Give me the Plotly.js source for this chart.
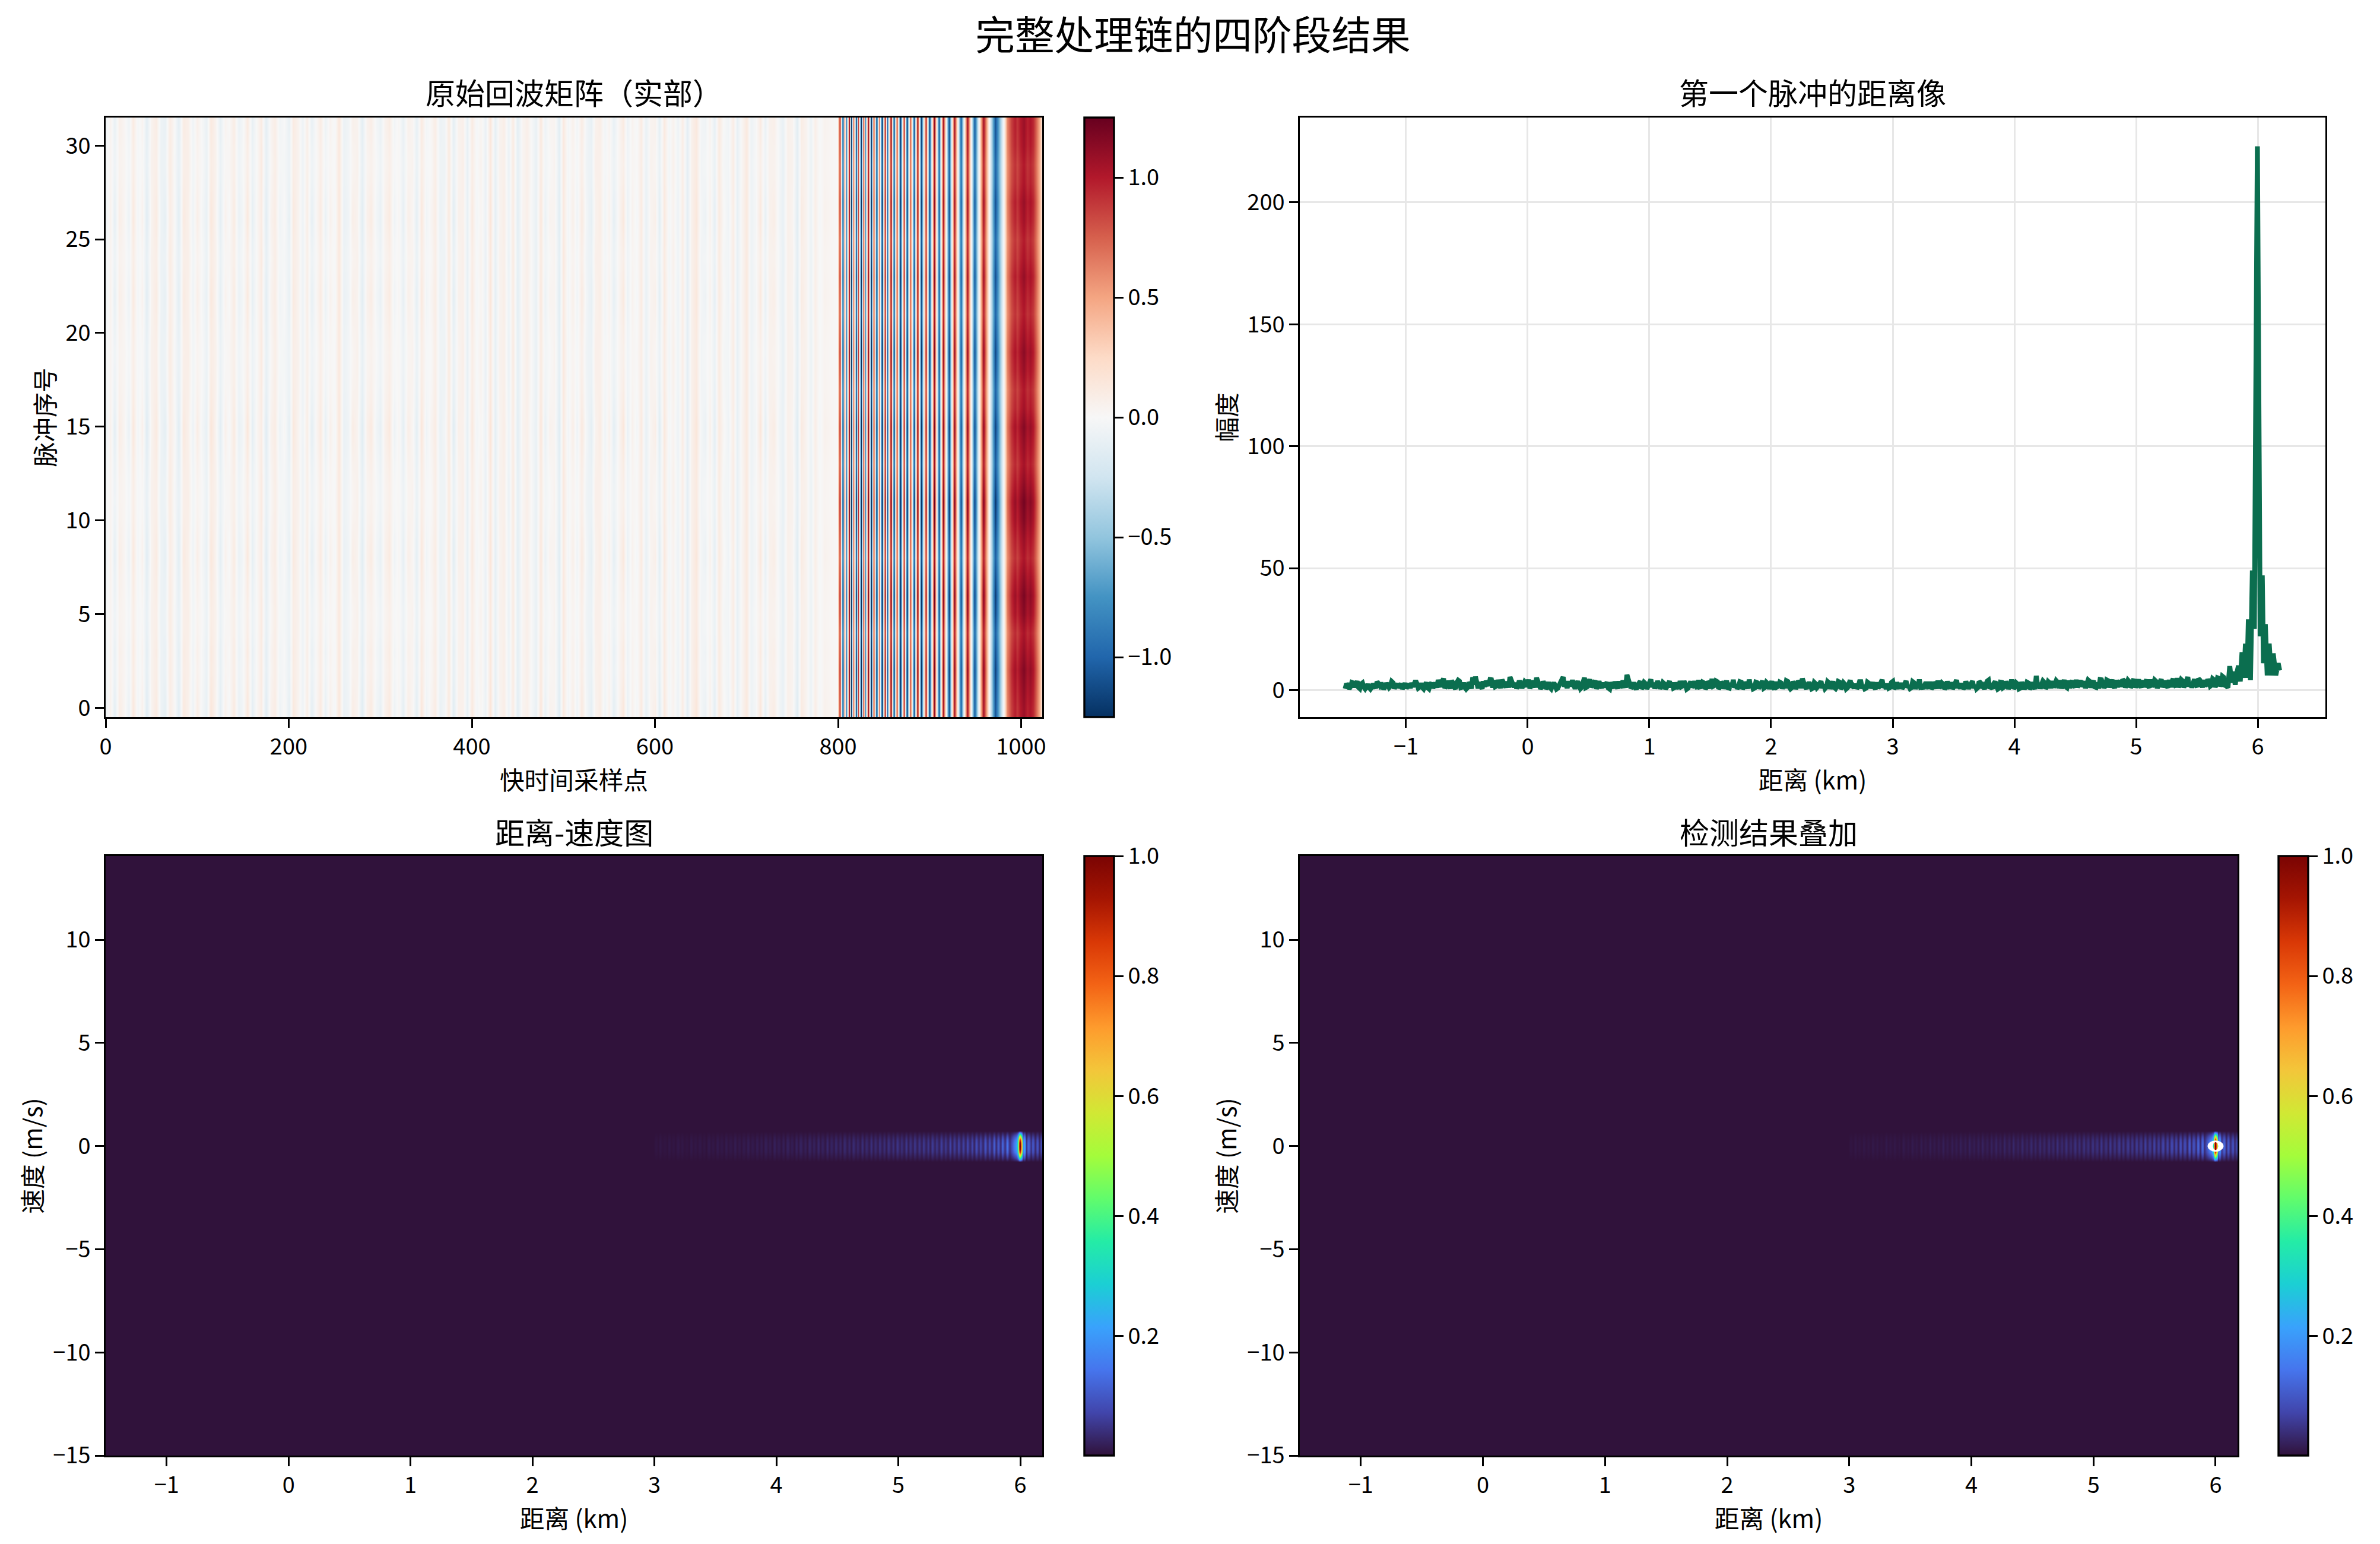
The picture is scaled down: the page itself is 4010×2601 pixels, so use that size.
<!DOCTYPE html>
<html><head><meta charset="utf-8">
<script src="https://cdn.plot.ly/plotly-3.0.1.min.js"></script>
<style>html,body{margin:0;padding:0;background:#fff}</style></head>
<body><div id="chart"></div>
<script>
// ---------- panel 1: raw echo matrix ----------
const noiseA=[-.08,.06,-.13,.1,.03,-.09,.14,-.04,.07,-.16,.04,.12,-.06,-.12,.09,.02,-.15,.13,.06,-.07,.1,-.03,-.1,.16,.04,-.13,.07,-.02,.12,-.09,-.04,.15,-.12,.03,.09,-.15,.06,.1,-.07,.02,-.12,.13,.04,-.06,.09,-.13,.03,.12,-.1,.07,-.03,.15,-.09,-.06,.1,.04,-.15,.07,.12,-.04,-.1,.06,.13,-.07,.03,-.12,.09,.02,-.13,.15,-.06,.04,.1,-.09,-.03,.12,-.15,.07,.06,-.1,.13,-.04,.02,-.07,.16,-.12,.03,.09,-.06,.1,-.13,.04,.07,-.02,-.09,.15,-.1,.06,.03,-.15,.12,-.04,.09,-.07,.13,-.03,-.12,.04,.1,-.06,.07,-.13,.02,.15,-.09,.06,-.04,.12,-.1,.03,.09,-.15,.13,-.02,.04,-.07,.1,-.12,.06,.15,-.03,-.09,.07,-.13,.12,.02,-.06,.09,-.1,.04,.13,-.07,-.03,.15,-.12,.06,.1,-.04,-.09,.07,.03,-.15,.12,.04,-.07,.09,-.03,.06];
const noiseB=[.09,-.04,.12,-.1,.02,.13,-.07,.04,-.15,.06,.1,-.03,-.12,.07,.15,-.09,.03,-.06,.12,.04,-.13,.09,-.02,-.07,.1,.06,-.15,.13,-.04,.03,.09,-.12,.07,-.06,.15,.02,-.1,.04,.12,-.13,.06,-.03,.1,-.09,.03,.13,-.07,-.04,.15,-.12,.06,.09,-.02,.04,-.15,.1,.03,-.07,-.13,.12,.07,-.04,-.09,.15,-.03,.06,-.12,.1,.02,-.07,.13,-.1,.04,.03,-.15,.09,.06,-.04,.12,-.09,-.02,.07,.13,-.12,.03,-.06,.1,.04,-.13,.15,-.07,-.03,.09,.06,-.1,.02,.12,-.15,.07,-.04,.13,.03,-.09,.1,-.06,-.12,.04,.15,-.02,.07,-.1,.09,.03,-.13,.06,-.07,.12,.02,-.04,.1,-.15,.09,.04,-.09,.13,-.03,.06,-.12,.07,.02,-.06,.15,-.1,.04,.09,-.13,.03,.12,-.07,-.02,.1,-.04,.06,-.15,.13,.03,-.09,.07,-.12,.04,.1,-.03,-.06,.09,-.1,.02,.07,-.04];
const rowBlend=[.95,.88,.8,.86,.76,.72,.79,.84,.93,.87,.78,.72,.75,.82,.91,.98,.86,.79,.74,.71,.77,.84,.9,.82,.75,.83,.92,.87,.79,.73,.78,.85];
const rowGain=[1.02,1.06,1.1,1.04,.98,1.08,1.12,1.05,.97,1.03,1.1,1.14,1.06,.99,1.04,1.09,1.0,.96,1.03,1.07,1.01,.95,.99,1.04,.98,.94,1.0,1.03,.97,.95,1.0,1.02];
const chirpSample=[799.5,802,805,807,809,812,814,817,820,822,825,828,830,833,836,839,842,845,848,851,854,858,861,864,868,872,875,879,883,887,891,896,900,905,910,915,921,927,934,941,949,959,972,981,985,989,993,996,999,1003,1007,1010,1013,1016,1020,1023];
const chirpValue=[0,.95,-1.15,.7,-.85,1.05,-1.2,.75,-1.1,.85,-1.2,.95,-.8,1.05,-1.2,.9,-1.15,.7,-1.2,1.05,-.95,1.15,-1.1,.85,-1.2,.95,-1.15,.8,-1.05,1.1,-1.15,.95,-1.1,1.08,-1.02,1.02,-1.08,1.02,-.98,1.03,-1.02,1.03,-1.06,0,.6,.85,.96,.88,.98,1.06,.95,1.0,.92,.76,.48,.12];
// ---------- panel 2: first pulse range profile ----------
const profileFloor=[.5,1.9,1.4,2.9,2.3,1.1,2.5,1.2,1.3,1,1.2,1.6,3.4,1.8,.8,1.3,1.9,1.6,3,1.7,1,2.6,1.4,.7,2.5,
2.9,3.1,2.6,1.2,1.1,1.8,1,2.3,.8,2.9,4.1,1.3,4.7,1.6,2.6,3.8,1.3,3.1,3.6,1.2,1.1,1,2.4,5.2,5.5,
.7,1.7,3.6,3.7,1.8,4.2,4,1.7,2.5,4.2,1.6,3.5,5.3,2.4,3,1.9,2.4,2.2,2.8,4.3,2.3,2.6,5,1.8,1.4,
2.4,1.3,1.1,1.9,1.7,.8,2.8,5.3,2.6,3.6,2.4,2.2,2.5,2,1.2,5,1.3,4.4,2.4,3.8,2.2,1.8,3,2.4,.8,
3.1,.7,2.4,3.6,1.8,2.5,6.2,2.9,1.4,1.1,1.9,3.6,1.3,2.6,1.7,4.3,3,2.2,2.4,1.6,2.6,1.3,3.6,3,1.1,
1.9,3.7,1.7,2.4,.8,3.5,1.8,2.2,4.1,1.4,2.9,1.2,2.8,4.6,1.9,3.4,1.3,2.5,2,1,2.9,4.2,2.3,1.4,3.2,
1.3,2.2,4.3,2.4,.8,3,1.7,3.7,1.2,2.6,1.9,1.1,3.4,1.6,2.9,2,3.8,1.3,1,2.3,1.7,3.1,4.7,1.4,2.4,
1.8,.8,2.6,1.6,3.6,2.2,1.2,2.9,1.9,1.1,1.6,3.2,1.3,2.3,1,4,1.7,2.5,1.4,3.4,2,.8,2.8,1.8,1.2,
3.1,1.6,4.2,1.9,2.6,1.1,3.5,1.3,2.2,2.9,1.4,3.7,1.8,1,3,2,4.3,1.4,2.5,1.7,3.4,1.2,2.3,3.8,1.6,
2.4,1.1,1.8,3.2,1.4,4.1,1.9,2.8,1.2,2.4,1.7,3.6,2,1,3,1.6,2.3,4,1.3,2.6,1.8,.8,3.1,1.4,2.2,
1.7,3.5,1.3,2.4,.8,1.9,1.4,2.9,1.1,1.8,5.8,2.6,2.3,3.1,1.4,2.9,3.7,2.2,3.2,4,2.5,1.4,3.8,2.9,1.9,
4.2,2.4,1.4,3.5,2.2,3.6,2.9,1.3,3.1,4.3,2.4,1.7,3.8,2.8,1.8,4.1,3,1.3,3.8,2.4,3.4,1.8,3.7,2.6,2,
4,3.1,1.7,4.3,2.6,3.6,2.2,4.4,2.9,1.8,4.1,3.4,1.9,4.9,2.8,3.8,2.3,5.3,3.1,3.6,2,4.6,2.9,4.1,2.4];
const profileMid=[2.6,.5,3.1,1.2,3.6,.6,2.9,.5,2.3,.4,2.5,.8,2.3,2.9,.4,2.8,1,3.5,.6,2.6,2,.5,2.8,1.9,.8,
1.4,3.8,.8,2.8,.5,3.1,.5,2.9,2,1,2.6,3.4,.8,3.7,.6,3,.5,4,1,3,.4,3.1,.6,2.2,1.1,
3.2,.5,1.3,2.6,4.3,1,1.4,4.1,.8,3.1,1.1,1,3.7,1.2,.6,3.8,.8,3.4,1.3,.6,3.7,1.1,2.9,.6,3.5,
.6,3.2,.5,3,.4,1.9,3.8,1.4,.8,1.8,4,.5,3.5,.6,3.1,1,2.9,1.2,3.2,.5,3.6,.8,1.1,3.1,.4,
1.8,3.4,.6,1.1,3.8,1,3.7,.8,3.1,.4,3.5,.6,3.1,.5,3.4,1.2,.6,3.6,.6,3.1,.5,3,1.1,.8,3,
.5,1.4,3.6,.4,2.8,1.2,3.6,.5,1.3,3.2,.5,3.5,.6,1.6,3.7,.5,3.4,.6,3.8,.8,1.2,1,.6,3.4,.5,
3.2,.6,1.4,.5,3.2,.6,3.5,.8,3.1,.5,3.6,.4,1.3,3.2,.6,.8,3.5,.5,3.5,.5,3.7,.8,1.7,.6,3.2,
.5,3.1,1,3.5,.8,.6,3.4,.5,3.5,.6,3.5,.5,2.9,.5,3.2,1.1,.8,.6,3.4,.6,.5,3.2,.8,3.1,.4,
.8,3.2,1,.5,.8,3.1,.5,3,.6,.6,3.5,1,.6,3.4,.5,.8,1.2,.6,3.2,.6,.5,3.2,.6,.8,2.9,
.5,3.5,.6,.5,3.4,.8,.6,.5,3.5,.6,3,.8,.5,3.5,.8,.5,3.6,.6,.6,3.4,.4,3.2,1,3.5,.5,
3.5,.6,2.9,.5,3.2,.5,3.2,.5,3.1,.4,1.8,.6,3.7,.6,3.4,.8,1.1,3.8,.8,.6,4.1,1,.8,3.8,1.1,
1.1,4,3.2,.8,4.1,1,3.8,1.1,.6,4.2,1,4.1,1.1,4.2,.8,1.2,3.8,4.3,1,4,1.1,3.8,1,4.3,1.1,
1.2,4.2,1,1.3,4.1,.8,4.3,1.2,3.7,1,1.2,4.6,1.4,1.1,4.3,1.1,4.7,1.4,1,4.4,1.3,4.1,1.1,1.6,4.3];
const nearKm=[5.6,5.61,5.62,5.63,5.64,5.65,5.66,5.67,5.68,5.69,5.7,5.71,5.72,5.73,5.74,5.755,5.77,5.785,5.8,5.815,5.828,5.842,5.856,5.871,5.886,5.899,5.912,5.923,5.94,5.956,5.972,5.997,6.02,6.037,6.047,6.062,6.078,6.094,6.11,6.127,6.148,6.168,6.18];
const nearAmp=[3.5,1.6,2,4.6,4.2,1.2,2.5,5,4.8,1.6,2.6,5.6,5.2,1.4,1.8,1,9.8,3,7.5,2.2,7,10,3.5,15.5,5,19,5,29,4,49,25,223,22,47,11,27,6,19,6,15,6,11,8];
// ---------- panels 3 and 4: range-Doppler map ----------
const dopplerVel=[-15,-14.0625,-13.125,-12.1875,-11.25,-10.3125,-9.375,-8.4375,-7.5,-6.5625,-5.625,-4.6875,-3.75,-2.8125,-1.875,-.75,-.6,-.45,-.3,-.15,0,.15,.3,.45,.6,.75,1.875,2.8125,3.75,4.6875,5.625,6.5625,7.5,8.4375,9.375,10.3125,11.25,12.1875,13.125,14.0625];
const dopplerWeight=[0,0,0,0,0,0,0,0,0,0,0,0,0,0,0,0,.3,.6,.85,.97,1,.97,.85,.6,.3,0,0,0,0,0,0,0,0,0,0,0,0,0,0,0];
const lobeFar=[.006,.002,.008,.003,.006,.002,.009,.003,.007,.002,.01,.004,.008,.003,.006,.002,.011,.004,.008,.003,.01,.003,.007,.002,.012,.004,.009,.003,.013,.005,.01,.003,.014,.005,.011,.004,.016,.005,.012,.004,.014,.005,.018,.006,.013,.004,.017,.006,.015,.005,.02,.007,.016,.005,.022,.008,.017,.006,.019,.006,.024,.008,.018,.006,.023,.008,.026,.009,.02,.007,.028,.009,.024,.008,.03,.01,.025,.008,.032,.011,.027,.009,.034,.012,.029,.01,.036,.012,.031,.011,.038,.013,.033,.011,.04,.014,.036,.012,.042,.015,.037,.013,.045,.016,.04,.014,.047,.017,.042,.015,.05,.018,.045,.016,.052,.018,.047,.016,.055,.019,.05,.017,.058,.02,.052,.018,.06,.021,.055,.019,.063,.022,.058,.02,.067,.023,.062,.021,.072,.024,.066,.022,.078,.026,.072,.024,.086,.028,.08,.026,.096,.03,.09,.028,.11,.032,.1,.03,.13,.036,.14,.04];
const lobeNearKm=[5.964,5.972,5.982,5.989,5.995,6.001,6.007,6.013,6.02,6.034,6.05,6.068,6.086,6.104,6.122,6.14,6.158,6.176,6.18];
const lobeNearVal=[.2,.24,.35,.85,1,1,.85,.55,.15,.24,.05,.13,.04,.11,.035,.1,.03,.09,.08];
// detected cell outline (km, m/s), outer boundary then the inner opening
const detectKm=[6.066,6.061,6.046,6.025,6,5.975,5.954,5.939,5.934,5.939,5.954,5.975,6,6.025,6.046,6.061,6.066,null,6.022,6.016,6,5.984,5.978,5.984,6,6.016,6.022];
const detectVel=[0,.104,.193,.252,.273,.252,.193,.104,0,-.104,-.193,-.252,-.273,-.252,-.193,-.104,0,null,0,-.141,-.2,-.141,0,.141,.2,.141,0];
const titles=['原始回波矩阵（实部）','第一个脉冲的距离像','距离-速度图','检测结果叠加'];
const suptitle='完整处理链的四阶段结果';
const tickValsCb1=[-1,-.5,0,.5,1], tickTextCb1=['−1.0','−0.5','0.0','0.5','1.0'];
const tickValsCb2=[.2,.4,.6,.8,1], tickTextCb2=['0.2','0.4','0.6','0.8','1.0'];
const rdbu=['#053061','#2166ac','#4393c3','#92c5de','#d1e5f0','#f7f7f7','#fddbc7','#f4a582','#d6604d','#b2182b','#67001f'];
const turbo=['#30123b','#4145ab','#4675ed','#39a2fc','#1bcfd4','#24eca6','#61fc6c','#a4fc3b','#d1e834','#f3c63a','#fe9b2d','#f36315','#d93806','#a51502','#7a0403'];

const W=4010,H=2601,FONT='"Noto Sans CJK SC","Noto Sans",sans-serif';
const scale=a=>a.map((c,i)=>[i/(a.length-1),c]);
const dx=([a,b])=>[a/W,b/W], dy=([t,b])=>[1-b/H,1-t/H];
const rowsTop=[198,1208], rowsBot=[1442,2452];

// panel 1 grid
const echoX=[], echoZ=[];
noiseA.forEach((_,i)=>echoX.push(i*5));
chirpSample.forEach(s=>echoX.push(s));
rowBlend.forEach((w,r)=>{
  const row=noiseA.map((a,i)=>a*w+noiseB[i]*(1-w));
  chirpValue.forEach(v=>row.push(v*rowGain[r]));
  echoZ.push(row);
});
const echoY=rowBlend.map((_,i)=>i);
// panel 2 line
const floorStep=7.1/profileFloor.length;
const lineX=[], lineY=[];
profileFloor.forEach((v,i)=>{
  lineX.push(-1.5+i*floorStep); lineY.push(v);
  if(i<profileMid.length){lineX.push(-1.5+(i+.5)*floorStep); lineY.push(profileMid[i]);}
});
nearKm.forEach((k,i)=>{lineX.push(k); lineY.push(nearAmp[i]);});
// panels 3, 4 grid
const rdX=[-1.5,2.99].concat(lobeFar.map((_,i)=>3.012+i*.018),lobeNearKm);
const rdRow=[0,0].concat(lobeFar,lobeNearVal);
const rdZ=dopplerWeight.map(w=>rdRow.map(v=>v*w));

const tick={family:FONT,size:38,color:'#000'};
const cb=(x,yr,vals,text)=>({x:x/W,xanchor:'left',xref:'paper',y:1-(yr[0]+yr[1])/2/H,yanchor:'middle',yref:'paper',
  len:(yr[1]-yr[0])/H,lenmode:'fraction',thickness:50,thicknessmode:'pixels',xpad:0,ypad:0,outlinewidth:3.4,outlinecolor:'#000',
  tickmode:'array',tickvals:vals,ticktext:text,ticks:'outside',ticklen:14.6,tickwidth:3.4,tickcolor:'#000',tickfont:tick,showticklabels:true});
const traces=[
 {type:'heatmap',x:echoX,y:echoY,z:echoZ,xaxis:'x',yaxis:'y',zsmooth:'best',zmin:-1.25,zmax:1.25,colorscale:scale(rdbu),colorbar:cb(1827,rowsTop,tickValsCb1,tickTextCb1)},
 {type:'scatter',mode:'lines',x:lineX,y:lineY,xaxis:'x2',yaxis:'y2',line:{color:'#0b6e4f',width:8.3},showlegend:false},
 {type:'heatmap',x:rdX,y:dopplerVel,z:rdZ,xaxis:'x3',yaxis:'y3',zsmooth:'best',zmin:.0005,zmax:1,colorscale:scale(turbo),colorbar:cb(1827,rowsBot,tickValsCb2,tickTextCb2)},
 {type:'heatmap',x:rdX,y:dopplerVel,z:rdZ,xaxis:'x4',yaxis:'y4',zsmooth:'best',zmin:.0005,zmax:1,colorscale:scale(turbo),colorbar:cb(3839,rowsBot,tickValsCb2,tickTextCb2)},
 {type:'scatter',mode:'lines',x:detectKm,y:detectVel,xaxis:'x4',yaxis:'y4',fill:'toself',fillcolor:'#fff',line:{color:'#fff',width:0},connectgaps:false,showlegend:false,hoverinfo:'skip'}
];
const ax=(dom,range,title,extra)=>Object.assign({domain:dom,range,showline:true,mirror:true,linecolor:'#000',linewidth:3.4,
  ticks:'outside',ticklen:14.6,tickwidth:3.4,tickcolor:'#000',tickfont:tick,showgrid:false,zeroline:false,automargin:false,
  title:{text:title,font:{family:FONT,size:41.7,color:'#000'},standoff:5}},extra);
const kmTicks={tickmode:'array',tickvals:[-1,0,1,2,3,4,5,6]};
const velTicks={tickmode:'array',tickvals:[-15,-10,-5,0,5,10]};
const gridStyle={showgrid:true,gridcolor:'#e7e7e7',gridwidth:3.3};
const subTitle=(t,xr,yTop)=>({text:t,x:(xr[0]+xr[1])/2/W,y:1-yTop/H,xref:'paper',yref:'paper',xanchor:'center',yanchor:'middle',showarrow:false,font:{family:FONT,size:50,color:'#000'}});
const layout={width:W,height:H,margin:{l:0,r:0,t:0,b:0},paper_bgcolor:'#fff',plot_bgcolor:'#fff',showlegend:false,
 title:{text:suptitle,x:2010/W,xref:'paper',xanchor:'center',y:1-61/H,yref:'paper',yanchor:'middle',font:{family:FONT,size:66.7,color:'#000'}},
 xaxis:ax(dx([178,1756]),[0,1023],'快时间采样点',{anchor:'y',tickmode:'array',tickvals:[0,200,400,600,800,1000]}),
 yaxis:ax(dy(rowsTop),[-.5,31.5],'脉冲序号',{anchor:'x',tickmode:'array',tickvals:[0,5,10,15,20,25,30]}),
 xaxis2:ax(dx([2190,3918]),[-1.873,6.556],'距离 (km)',Object.assign({anchor:'y2'},kmTicks,gridStyle)),
 yaxis2:ax(dy(rowsTop),[-11.1,234.8],'幅度',Object.assign({anchor:'x2',tickmode:'array',tickvals:[0,50,100,150,200]},gridStyle)),
 xaxis3:ax(dx([178,1756]),[-1.5,6.18],'距离 (km)',Object.assign({anchor:'y3'},kmTicks)),
 yaxis3:ax(dy(rowsBot),[-15,14.06],'速度 (m/s)',Object.assign({anchor:'x3'},velTicks)),
 xaxis4:ax(dx([2190,3770]),[-1.5,6.18],'距离 (km)',Object.assign({anchor:'y4'},kmTicks)),
 yaxis4:ax(dy(rowsBot),[-15,14.06],'速度 (m/s)',Object.assign({anchor:'x4'},velTicks)),
 annotations:[subTitle(titles[0],[178,1756],154),subTitle(titles[1],[2190,3918],154),subTitle(titles[2],[178,1756],1400),subTitle(titles[3],[2190,3770],1400)]
};
Plotly.newPlot('chart',traces,layout,{displayModeBar:false,responsive:false});
</script></body></html>
